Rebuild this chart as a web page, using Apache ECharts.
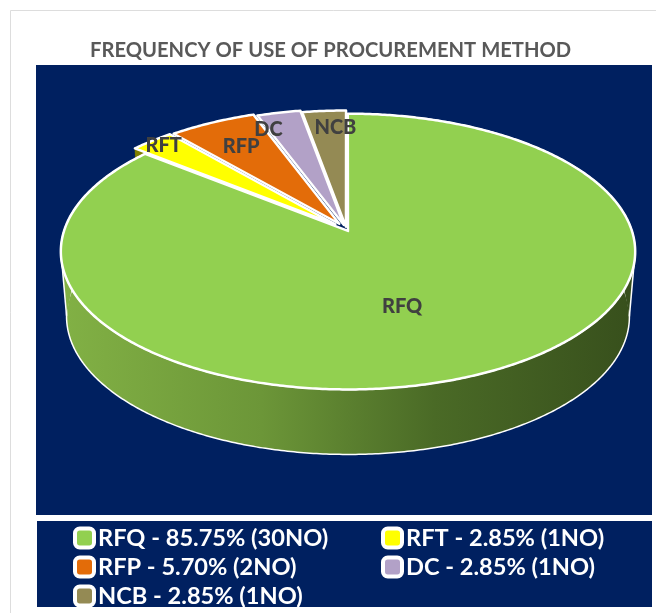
<!DOCTYPE html>
<html>
<head>
<meta charset="utf-8">
<style>
  html, body { margin: 0; padding: 0; background: #fff; }
  #chart { width: 656px; height: 613px; }
</style>
<script src="https://cdn.jsdelivr.net/npm/echarts@6/dist/echarts.min.js"></script>
</head>
<body>
<div id="chart"></div>
<script>
const methods = ['RFQ', 'RFT', 'RFP', 'DC', 'NCB']
const percents = [85.75, 2.85, 5.70, 2.85, 2.85]
const counts = [30, 1, 2, 1, 1]
const colors = ['#92D050', '#FFFF00', '#E36C09', '#B2A1C7', '#948A54']

// pie seen in perspective: the unit circle is projected on the screen
const cx = 346.5, cy = 229.5
const rx = 283.5, ry = 134.4, persp = 0.149
const depth = 65, bottomShrink = 0.98
const explode = [0.012, 0.055, 0.05, 0.035, 0.02]

const labelRatio = [0.42, 1.05, 0.8, 0.85, 0.85]
const labelNudge = [[1, 23], [11, 4], [0, 1], [-21, -2], [8, -1]]

const project = (u, v) => {
  const w = 1 - persp * v
  return [cx + rx * u / w, cy + ry * v / w]
}
const lower = p => [cx + (p[0] - cx) * bottomShrink, p[1] + depth]

const total = percents.reduce((a, b) => a + b, 0)
const sliceAngles = i => {
  const before = percents.slice(0, i).reduce((a, b) => a + b, 0)
  return [before / total * Math.PI * 2, (before + percents[i]) / total * Math.PI * 2]
}

const wallFill = i => {
  if (i === 0) {
    return new echarts.graphic.LinearGradient(0, 0, 1, 0, [
      { offset: 0, color: '#82B145' },
      { offset: 0.35, color: '#6C9638' },
      { offset: 0.65, color: '#4A6A26' },
      { offset: 1, color: '#374F1C' }
    ])
  }
  return i === 1 ? '#7F7F00' : null
}

const renderSlice = i => () => {
  const [a0, a1] = sliceAngles(i)
  const mid = (a0 + a1) / 2
  const ox = explode[i] * Math.sin(mid), oy = -explode[i] * Math.cos(mid)
  const base = i === 0 ? 2 : 0

  const rim = []
  const steps = Math.max(6, Math.ceil((a1 - a0) / 0.01))
  for (let s = 0; s <= steps; s++) {
    const a = a0 + (a1 - a0) * s / steps
    rim.push(project(Math.sin(a) + ox, -Math.cos(a) + oy))
  }
  const apex = project(ox, oy)
  const children = []

  const fill = wallFill(i)
  if (fill) {
    const wall = rim.concat(rim.map(lower).reverse())
    children.push({
      type: 'polygon', z2: base + 1, shape: { points: wall },
      style: { fill: fill, stroke: i === 0 ? '#fff' : fill, lineWidth: i === 0 ? 1.5 : 0.5 }
    })
    if (i === 1) {
      // cut face of the slice, shows in the gap next to the big slice
      children.push({
        type: 'polygon', z2: base + 1,
        shape: { points: [rim[0], apex, lower(apex), lower(rim[0])] },
        style: { fill: '#7F7F00' }
      })
    }
    if (i === 0) {
      const xs = rim.map(p => p[0])
      const left = rim[xs.indexOf(Math.min(...xs))]
      const right = rim[xs.indexOf(Math.max(...xs))]
      ;[left, right].forEach(p => {
        children.push({
          type: 'polygon', z2: base + 1,
          shape: { points: [p, lower(p), [p[0] + (p[0] < cx ? 12 : -12), p[1] + depth / 2]] },
          style: { fill: p === left ? '#82B145' : '#374F1C' }
        })
        children.push({
          type: 'polyline', z2: base + 1,
          shape: { points: [p, lower(p)] },
          style: { fill: null, stroke: '#fff', lineWidth: 1.5 }
        })
      })
    }
  }

  children.push({
    type: 'polygon', z2: base + 2,
    shape: { points: [apex].concat(rim) },
    style: { fill: colors[i], stroke: '#fff', lineWidth: 2.5, lineJoin: 'round' }
  })

  const r = labelRatio[i]
  const lp = project(Math.sin(mid) * r, -Math.cos(mid) * r)
  children.push({
    type: 'text', z2: 6,
    style: {
      text: methods[i],
      x: lp[0] + labelNudge[i][0],
      y: lp[1] + labelNudge[i][1],
      fill: '#404040',
      font: '900 20px Lato',
      align: 'center',
      verticalAlign: 'middle'
    }
  })
  return { type: 'group', children: children }
}

const legendNames = methods.map((m, i) => `${m} - ${percents[i].toFixed(2)}% (${counts[i]}NO)`)

const legendBase = {
  orient: 'vertical',
  icon: 'roundRect',
  itemWidth: 19,
  itemHeight: 19,
  itemGap: 5,
  top: 521,
  selectedMode: false,
  itemStyle: { borderColor: '#fff', borderWidth: 4 },
  textStyle: { color: '#fff', fontFamily: 'Lato', fontWeight: 'bold', fontSize: 23.6, padding: [0, 0, 0, -1] }
}

const chart = echarts.init(document.getElementById('chart'))
chart.setOption({
  animation: false,
  title: {
    text: 'FREQUENCY OF USE OF PROCUREMENT METHOD',
    left: 90,
    top: 40,
    padding: 0,
    textStyle: { color: '#595959', fontFamily: 'Lato', fontWeight: 'bold', fontSize: 20.2 }
  },
  graphic: [
    { type: 'rect', shape: { x: 10.5, y: 10.5, width: 700, height: 700 }, style: { fill: '#fff', stroke: '#DDDDDD', lineWidth: 1 } },
    { type: 'rect', shape: { x: 36, y: 65, width: 616, height: 450 }, style: { fill: '#002060' } },
    { type: 'rect', shape: { x: 37, y: 521, width: 615, height: 86 }, style: { fill: '#002060' } }
  ],
  legend: [
    Object.assign({}, legendBase, { left: 68, data: [legendNames[0], legendNames[2], legendNames[4]] }),
    Object.assign({}, legendBase, { left: 376, data: [legendNames[1], legendNames[3]] })
  ],
  series: methods.map((m, i) => ({
    name: legendNames[i],
    type: 'custom',
    coordinateSystem: 'none',
    silent: true,
    renderItem: renderSlice(i),
    itemStyle: { color: colors[i] },
    data: [percents[i]]
  }))
})
</script>
</body>
</html>
